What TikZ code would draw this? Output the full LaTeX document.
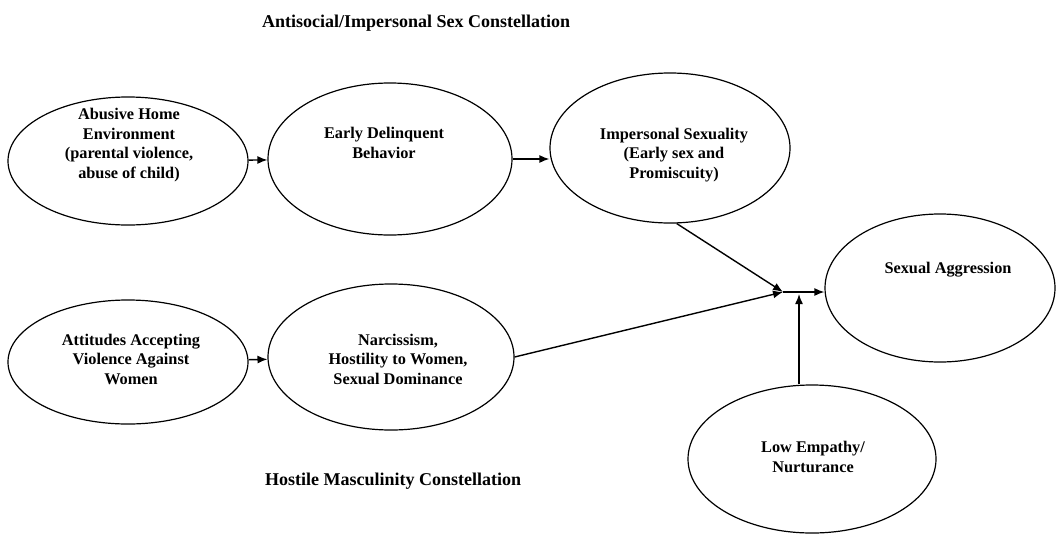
\documentclass[tikz,border=0pt]{standalone}
\usepackage{fontspec}
\setmainfont{Liberation Serif}
\usetikzlibrary{shapes.geometric,arrows.meta}
\begin{document}
\begin{tikzpicture}[x=1pt,y=-1pt,
  oval/.style={draw,ellipse,line width=1.2pt,inner sep=0pt},
  lbl/.style={align=center,font=\bfseries\fontsize{16.3}{19.5}\selectfont,inner sep=0pt},
  ttl/.style={font=\bfseries\fontsize{18}{20}\selectfont,inner sep=0pt},
  conn/.style={line width=1.4pt,-{Latex[length=10pt,width=8pt]}}]
\useasboundingbox[fill=white] (0,0) rectangle (1059,533);
% ellipses
\node[oval,minimum width=240pt,minimum height=128pt] (e1) at (128,161) {};
\node[oval,minimum width=244pt,minimum height=152pt] (e2) at (390,159) {};
\node[oval,minimum width=240pt,minimum height=150pt] (e3) at (670,148) {};
\node[oval,minimum width=240pt,minimum height=124pt] (e4) at (128,362) {};
\node[oval,minimum width=246pt,minimum height=146pt] (e5) at (391,357) {};
\node[oval,minimum width=230pt,minimum height=148pt] (e6) at (940,288) {};
\node[oval,minimum width=248pt,minimum height=148pt] (e7) at (812,459) {};
% texts
\node[lbl] (t1) at (129,145) {Abusive Home\\Environment\\(parental violence,\\abuse of child)};
\node[lbl] (t2) at (384,143) {Early Delinquent\\Behavior};
\node[lbl] (t3) at (674,155) {Impersonal Sexuality\\(Early sex and\\Promiscuity)};
\node[lbl] (t4) at (131,359) {Attitudes Accepting\\Violence Against\\Women};
\node[lbl] (t5) at (398,359) {Narcissism,\\Hostility to Women,\\Sexual Dominance};
\node[lbl] (t6) at (948,270) {Sexual Aggression};
\node[lbl] (t7) at (813,457) {Low Empathy/\\Nurturance};
\node[ttl,anchor=west] (h1) at (262,23) {Antisocial/Impersonal Sex Constellation};
\node[ttl,anchor=west] (h2) at (265,481) {Hostile Masculinity Constellation};
% connectors
\coordinate (j) at (783,292);
\coordinate (k) at (799,292);
\draw[conn] (e1) -- (e2);
\draw[conn] (e2.east) -- (e2.east -| e3.west);
\draw[conn] (e4) -- (e5);
\draw[conn] (e3.-85) -- (j);
\draw[conn] (e5.east) -- (j);
\draw[conn] (j) -- (j -| e6.west);
\draw[conn,shorten >=2pt] (k |- e7.north) -- (k);
\end{tikzpicture}
\end{document}
